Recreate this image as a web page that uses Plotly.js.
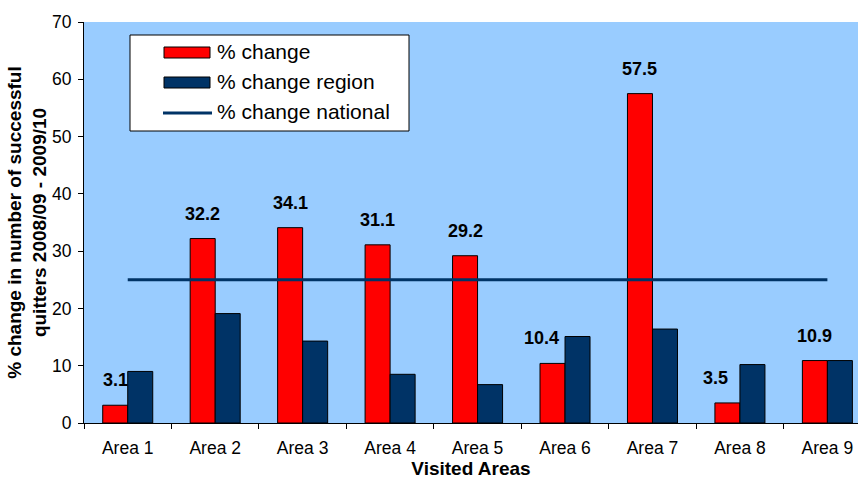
<!DOCTYPE html>
<html>
<head>
<meta charset="utf-8">
<script src="https://cdn.plot.ly/plotly-3.0.1.min.js"></script>
<style>html,body{margin:0;padding:0;background:#fff;}#chart{width:858px;height:480px;}</style>
</head>
<body>
<div id="chart"></div>
<script>
var categories = ["Area 1","Area 2","Area 3","Area 4","Area 5","Area 6","Area 7","Area 8","Area 9"];
var pctChange = [3.1, 32.2, 34.1, 31.1, 29.2, 10.4, 57.5, 3.5, 10.9];
var pctChangeRegion = [9.0, 19.1, 14.3, 8.5, 6.7, 15.1, 16.4, 10.2, 10.9];
var pctChangeNational = [25, 25, 25, 25, 25, 25, 25, 25, 25];
var yTicks = [0, 10, 20, 30, 40, 50, 60, 70];
var seriesNames = ["% change", "% change region", "% change national"];

var FONT = '"Liberation Sans", Arial, sans-serif';
var NAVY = '#003366';
var RED = '#FF0000';

// plot area geometry (px), used only to place the hand-drawn legend
var W = 858, H = 480, ML = 84, MR = 0, MT = 22, MB = 57;
var PW = W - ML - MR, PH = H - MT - MB;
function px(x){ return (x - ML) / PW; }
function py(y){ return (H - MB - y) / PH; }

var traces = [
  {type:'bar', name:seriesNames[0], x:categories, y:pctChange,
   marker:{color:RED, line:{color:'#000000', width:1}}, hoverinfo:'y'},
  {type:'bar', name:seriesNames[1], x:categories, y:pctChangeRegion,
   marker:{color:NAVY, line:{color:'#000000', width:1}}, hoverinfo:'y'},
  {type:'scatter', mode:'lines', name:seriesNames[2], x:categories, y:pctChangeNational,
   line:{color:NAVY, width:3}, hoverinfo:'y'}
];

// data label horizontal nudges (px), like manually moved labels in the original
var labelNudge = [0, 0, 0, 0, 0, -11, 0, -12, 0];
var annotations = categories.map(function(c, i){
  return {x:c, y:pctChange[i], xref:'x', yref:'y', text:String(pctChange[i]),
    showarrow:false, xanchor:'center', yanchor:'bottom', xshift:-12.5 + labelNudge[i], yshift:13,
    font:{family:FONT, size:18, color:'#000', weight:'bold'}};
});

// legend (drawn as shapes + text)
var legendRowsY = [51.5, 81.5, 111.5];
seriesNames.forEach(function(n, i){
  annotations.push({xref:'paper', yref:'paper', x:px(215), y:py(legendRowsY[i]), text:n,
    showarrow:false, xanchor:'left', yanchor:'middle',
    font:{family:FONT, size:21, color:'#000'}});
});
var shapes = [
  {type:'rect', xref:'paper', yref:'paper', x0:px(130), x1:px(409), y0:py(35), y1:py(131),
   fillcolor:'#ffffff', line:{color:'#000000', width:1}, layer:'above'},
  {type:'rect', xref:'paper', yref:'paper', x0:px(164), x1:px(210), y0:py(47), y1:py(58),
   fillcolor:RED, line:{color:'#000000', width:1}, layer:'above'},
  {type:'rect', xref:'paper', yref:'paper', x0:px(164), x1:px(210), y0:py(77), y1:py(88),
   fillcolor:NAVY, line:{color:'#000000', width:1}, layer:'above'},
  {type:'line', xref:'paper', yref:'paper', x0:px(163), x1:px(212), y0:py(113), y1:py(113),
   line:{color:NAVY, width:3}, layer:'above'}
];

var layout = {
  width:W, height:H,
  margin:{l:ML, r:MR, t:MT, b:MB, pad:0},
  paper_bgcolor:'#ffffff', plot_bgcolor:'#99CCFF',
  font:{family:FONT, size:17, color:'#000'},
  barmode:'group', bargap:0.428, bargroupgap:0,
  showlegend:false,
  xaxis:{type:'category', range:[-0.5, 8.35], showline:true, linecolor:'#000', linewidth:1,
    ticks:'outside', ticklen:5, tickcolor:'#000', tickson:'boundaries',
    showgrid:false, zeroline:false, ticklabelstandoff:9, automargin:false,
    tickfont:{family:FONT, size:17.5},
    title:{text:'<b>Visited Areas</b>', font:{family:FONT, size:19}, standoff:2}},
  yaxis:{range:[0,70], tickvals:yTicks, showline:true, linecolor:'#000', linewidth:1,
    ticks:'outside', ticklen:5, tickcolor:'#000', showgrid:false, zeroline:false,
    automargin:false, ticklabelstandoff:3, tickfont:{family:FONT, size:17.5},
    title:{text:'<b>% change in number of successful<br>quitters 2008/09 - 2009/10</b>',
      font:{family:FONT, size:19}, standoff:0}},
  annotations:annotations,
  shapes:shapes
};

Plotly.newPlot('chart', traces, layout, {displayModeBar:false, staticPlot:true});
</script>
</body>
</html>
